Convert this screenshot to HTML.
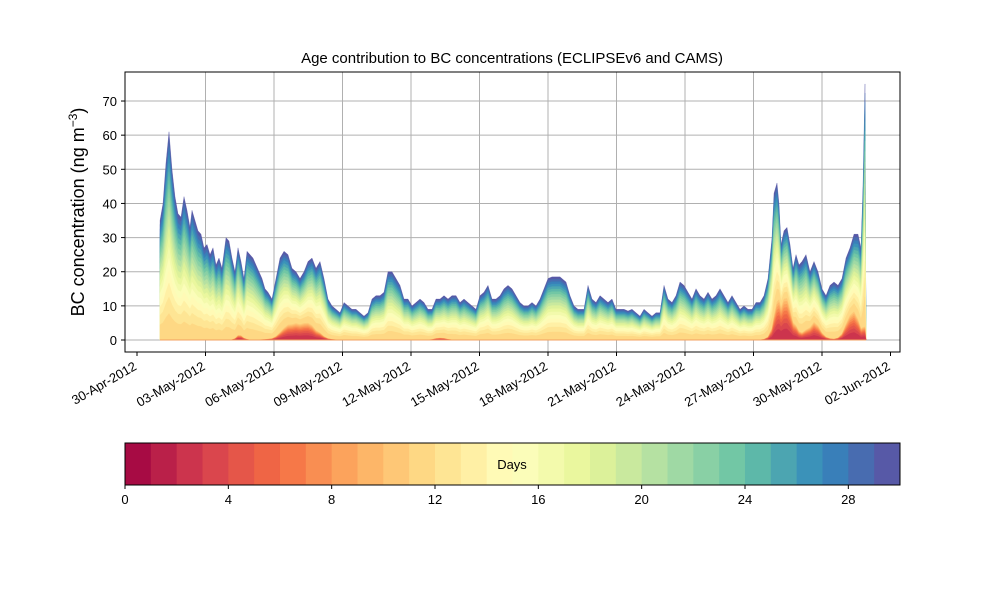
<!DOCTYPE html>
<html><head><meta charset="utf-8"><style>
body{margin:0;background:#fff;}
svg text{font-family:"Liberation Sans","DejaVu Sans",sans-serif;fill:#000;}
</style></head><body>
<svg id="s" width="1000" height="600" xmlns="http://www.w3.org/2000/svg">
<rect width="1000" height="600" fill="#fff"/>
<g id="grid"></g>
<g id="areas"></g>
<rect x="125" y="72" width="775" height="280" fill="none" stroke="#000" stroke-width="1"/>
<g id="ticks"></g>
<text x="512" y="63" font-size="15" text-anchor="middle">Age contribution to BC concentrations (ECLIPSEv6 and CAMS)</text>
<text transform="translate(84,212) rotate(-90)" font-size="18" text-anchor="middle">BC concentration (ng m<tspan dy="-7" font-size="12">−3</tspan><tspan dy="7">)</tspan></text>
<g id="cbar"></g>
<rect x="125" y="443" width="775" height="42" fill="none" stroke="#000" stroke-width="1"/>
<text x="512" y="469" font-size="13" text-anchor="middle">Days</text>
</svg>
<script>
const NS="http://www.w3.org/2000/svg";
function el(t,a,p,txt){const e=document.createElementNS(NS,t);for(const k in a)e.setAttribute(k,a[k]);if(txt!=null)e.textContent=txt;document.getElementById(p).appendChild(e);return e;}
const sp=["#9e0142","#d53e4f","#f46d43","#fdae61","#fee08b","#ffffbf","#e6f598","#abdda4","#66c2a5","#3288bd","#5e4fa2"];
function hex(h){return[1,3,5].map(i=>parseInt(h.substr(i,2),16));}
function spec(t){t=Math.max(0,Math.min(1,t));const f=t*10,i=Math.min(9,Math.floor(f)),r=f-i;const a=hex(sp[i]),b=hex(sp[i+1]);return"rgb("+a.map((v,j)=>Math.round(v+(b[j]-v)*r)).join(",")+")";}
const Y=v=>340-v*3.414;
const dates=["30-Apr-2012","03-May-2012","06-May-2012","09-May-2012","12-May-2012","15-May-2012","18-May-2012","21-May-2012","24-May-2012","27-May-2012","30-May-2012","02-Jun-2012"];
dates.forEach((d,i)=>{const x=137+i*68.5;
 if(i>0&&i<11)el("line",{x1:x,x2:x,y1:72,y2:352,stroke:"#b0b0b0","stroke-width":1},"grid");
 el("line",{x1:x,x2:x,y1:352,y2:356,stroke:"#000"},"ticks");
 el("text",{x:x-4,y:361,"font-size":13,"text-anchor":"end",transform:"rotate(-30 "+(x-4)+" 361)",dy:"0.7em"},"ticks",d);});
for(let v=0;v<=70;v+=10){const y=Y(v);
 el("line",{x1:125,x2:900,y1:y,y2:y,stroke:"#b0b0b0","stroke-width":1},"grid");
 el("line",{x1:121,x2:125,y1:y,y2:y,stroke:"#000"},"ticks");
 el("text",{x:117,y:y+5,"font-size":13,"text-anchor":"end"},"ticks",v);}
const raw=[160,35,163,40,166,52,169,61,172,50,175,42,178,37,181,36,184,42,187,38,190,33,192,38,195,35,198,32,201,31,204,27,207,28,210,25,213,27,216,22,219,24,222,21,226,30,229,29,232,24,235,20,238,27,241,23,244,18,247,26,250,25,253,24,256,22,259,20,262,18,265,15,268,14,272,12,276,18,280,24,284,26,288,25,292,21,296,20,300,18,304,20,308,23,312,24,316,21,320,23,324,18,328,12,332,10,336,9,340,8,344,11,348,10,352,9,356,9,360,8,364,7,368,8,372,12,376,13,380,13,384,14,388,20,392,20,396,18,400,16,404,12,408,12,412,10,416,11,420,12,424,11,428,9,432,9,436,12,440,12,444,13,448,12,452,13,456,13,460,11,464,12,468,11,472,10,476,9,480,13,484,14,488,16,492,12,496,12,500,13,504,15,508,16,512,15,516,13,520,11,524,10,528,10,532,11,536,10,540,12,548,18,552,18.5,560,18.5,566,17,570,13,574,10,578,9,584,9,588,16,592,12,596,11,600,13,604,12,608,11,612,12,616,9,620,9,624,9,628,8.5,632,9,636,8,640,7,644,9,648,8,652,7,656,8,660,8,664,16,668,12,672,11,676,13,680,17,684,16,688,14,692,12,696,15,700,13,704,12,708,14,712,12,716,13,720,15,724,13,728,11,732,13,736,11,740,9,744,10,748,9,752,9,756,11,760,11,764,13,768,18,772,30,774,43,777,46,779,40,781,28,784,32,787,33,790,28,793,21,796,25,799,22,802,23,806,25,810,20,814,23,818,20,822,15,826,13,830,16,834,17,838,16,842,18,846,24,850,27,854,31,858,31,861,27,863,45,865,75,866,0.5];
const pts=[];for(let i=0;i<raw.length;i+=2)pts.push([raw[i],raw[i+1]]);
function w(x){const g=(c,s,a)=>{const t=(x-c)/s;return a*Math.exp(-t*t);};
 return Math.min(0.8,g(300,20,0.5)+g(785,12,0.75)+g(815,10,0.45)+g(852,10,0.55)+g(440,8,0.1)+g(240,5,0.12));}
function C(k,x){if(k>=29)return 1;const base=Math.pow(Math.max(0,(k-10)/19),0.7);const young=Math.pow(Math.max(0,(k-1)/28),0.6);const ww=w(x);return(1-ww)*base+ww*young;}
for(let k=29;k>=0;k--){let d="M160,340 ";pts.forEach(p=>{d+="L"+p[0]+","+Y(p[1]*C(k,p[0])).toFixed(2)+" ";});d+="L866,340 Z";
 el("path",{d:d,fill:spec((k+0.5)/30),stroke:spec((k+0.5)/30),"stroke-width":0.3},"areas");}
el("line",{x1:160,x2:866,y1:340,y2:340,stroke:"#f3a060","stroke-width":1},"areas");
for(let k=0;k<30;k++){el("rect",{x:125+k*25.833,y:443,width:26.3,height:42,fill:spec((k+0.5)/30)},"cbar");}
for(let v=0;v<=28;v+=4){const x=125+v*25.833;el("line",{x1:x,x2:x,y1:485,y2:489,stroke:"#000"},"cbar");el("text",{x:x,y:504,"font-size":13,"text-anchor":"middle"},"cbar",v);}
</script>
</body></html>
